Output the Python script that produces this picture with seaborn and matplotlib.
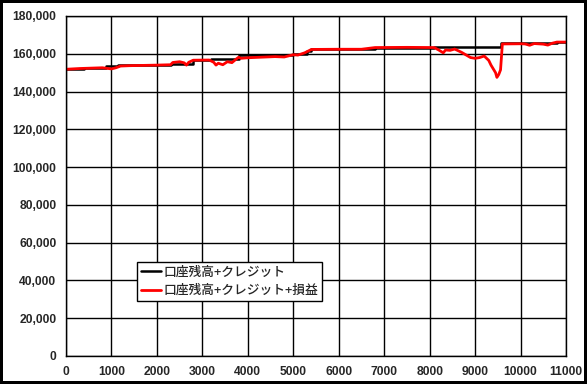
import numpy as np
import matplotlib.pyplot as plt
import matplotlib.ticker as mticker
import seaborn as sns

# balance + credit (step line)
black_x = [0, 400, 880, 1150, 2000, 2300, 2800, 3200, 3800, 4800, 5000, 5300, 5400,
           6800, 8100, 9580, 10500, 10800, 11000]
black_y = [152200, 152500, 153500, 154000, 154300, 154600, 156600, 157500, 159200,
           159600, 160000, 161500, 162300, 163300, 163800, 165500, 165800, 166300, 166300]

# balance + credit + P/L
red_x = [0, 300, 800, 900, 1000, 1100, 1200, 1400, 1600, 2000, 2300, 2350, 2500, 2600,
         2650, 2700, 2800, 3150, 3250, 3300, 3350, 3450, 3550, 3650, 3750, 3800, 3850,
         4000, 4300, 4600, 4800, 5000, 5100, 5250, 5400, 6000, 6500, 6800, 7500, 8100,
         8200, 8300, 8350, 8450, 8550, 8700, 8900, 9000, 9100, 9200, 9300, 9350, 9400,
         9450, 9480, 9520, 9560, 9600, 10000, 10100, 10200, 10300, 10500, 10600, 10700,
         10800, 11000]
red_y = [151800, 152200, 152600, 152300, 152000, 152600, 153500, 153700, 153800, 154000,
         154200, 155400, 155800, 155200, 154000, 155500, 156600, 156700, 155500, 154000,
         155000, 154200, 155800, 155300, 157300, 158200, 157600, 157900, 158200, 158500,
         158300, 159500, 159300, 160500, 162300, 162400, 162400, 163300, 163400, 163300,
         162000, 160500, 162000, 161800, 162500, 160800, 158000, 157600, 158000, 158800,
         156500, 154000, 152000, 150000, 147500, 149000, 151500, 165200, 165300, 165200,
         164500, 165400, 165100, 164600, 165600, 166200, 166200]

labels = ['口座残高+クレジット', '口座残高+クレジット+損益']

sns.set_style('white')

fig = plt.figure(figsize=(5.87, 3.84), dpi=100)
fig.patch.set_edgecolor('black')
fig.patch.set_linewidth(3)
ax = fig.add_axes([66 / 587, 1 - 356 / 384, 500 / 587, 340 / 384])

sns.lineplot(x=black_x, y=black_y, ax=ax, color='black', lw=1.8,
             drawstyle='steps-post', sort=False, label=labels[0])
sns.lineplot(x=red_x, y=red_y, ax=ax, color='#ff0000', lw=2.0,
             sort=False, label=labels[1])

ax.set_xlim(0, 11000)
ax.set_ylim(0, 180000)
ax.set_xticks(np.arange(0, 11001, 1000))
ax.set_yticks(np.arange(0, 180001, 20000))
ax.yaxis.set_major_formatter(mticker.StrMethodFormatter('{x:,.0f}'))
ax.grid(True, color='black', lw=1)
ax.set_axisbelow(True)
for s in ax.spines.values():
    s.set_color('black')
    s.set_linewidth(1)
ax.tick_params(length=0, pad=7)
for t in ax.get_xticklabels() + ax.get_yticklabels():
    t.set_fontfamily('Liberation Sans')
    t.set_fontweight('bold')
    t.set_fontsize(8.7)

leg = ax.legend(loc='lower left', bbox_to_anchor=(0.142, 0.162), frameon=True,
                fancybox=False, borderaxespad=0, handlelength=1.6, handletextpad=0.2,
                labelspacing=0.45, borderpad=0.3,
                prop={'family': ['Noto Sans CJK JP', 'DejaVu Sans'], 'size': 9.2,
                      'weight': 'medium'})
leg.get_frame().set_edgecolor('black')
leg.get_frame().set_linewidth(1)
leg.get_frame().set_alpha(1)

fig.savefig('out.png', dpi=100, edgecolor='black')
